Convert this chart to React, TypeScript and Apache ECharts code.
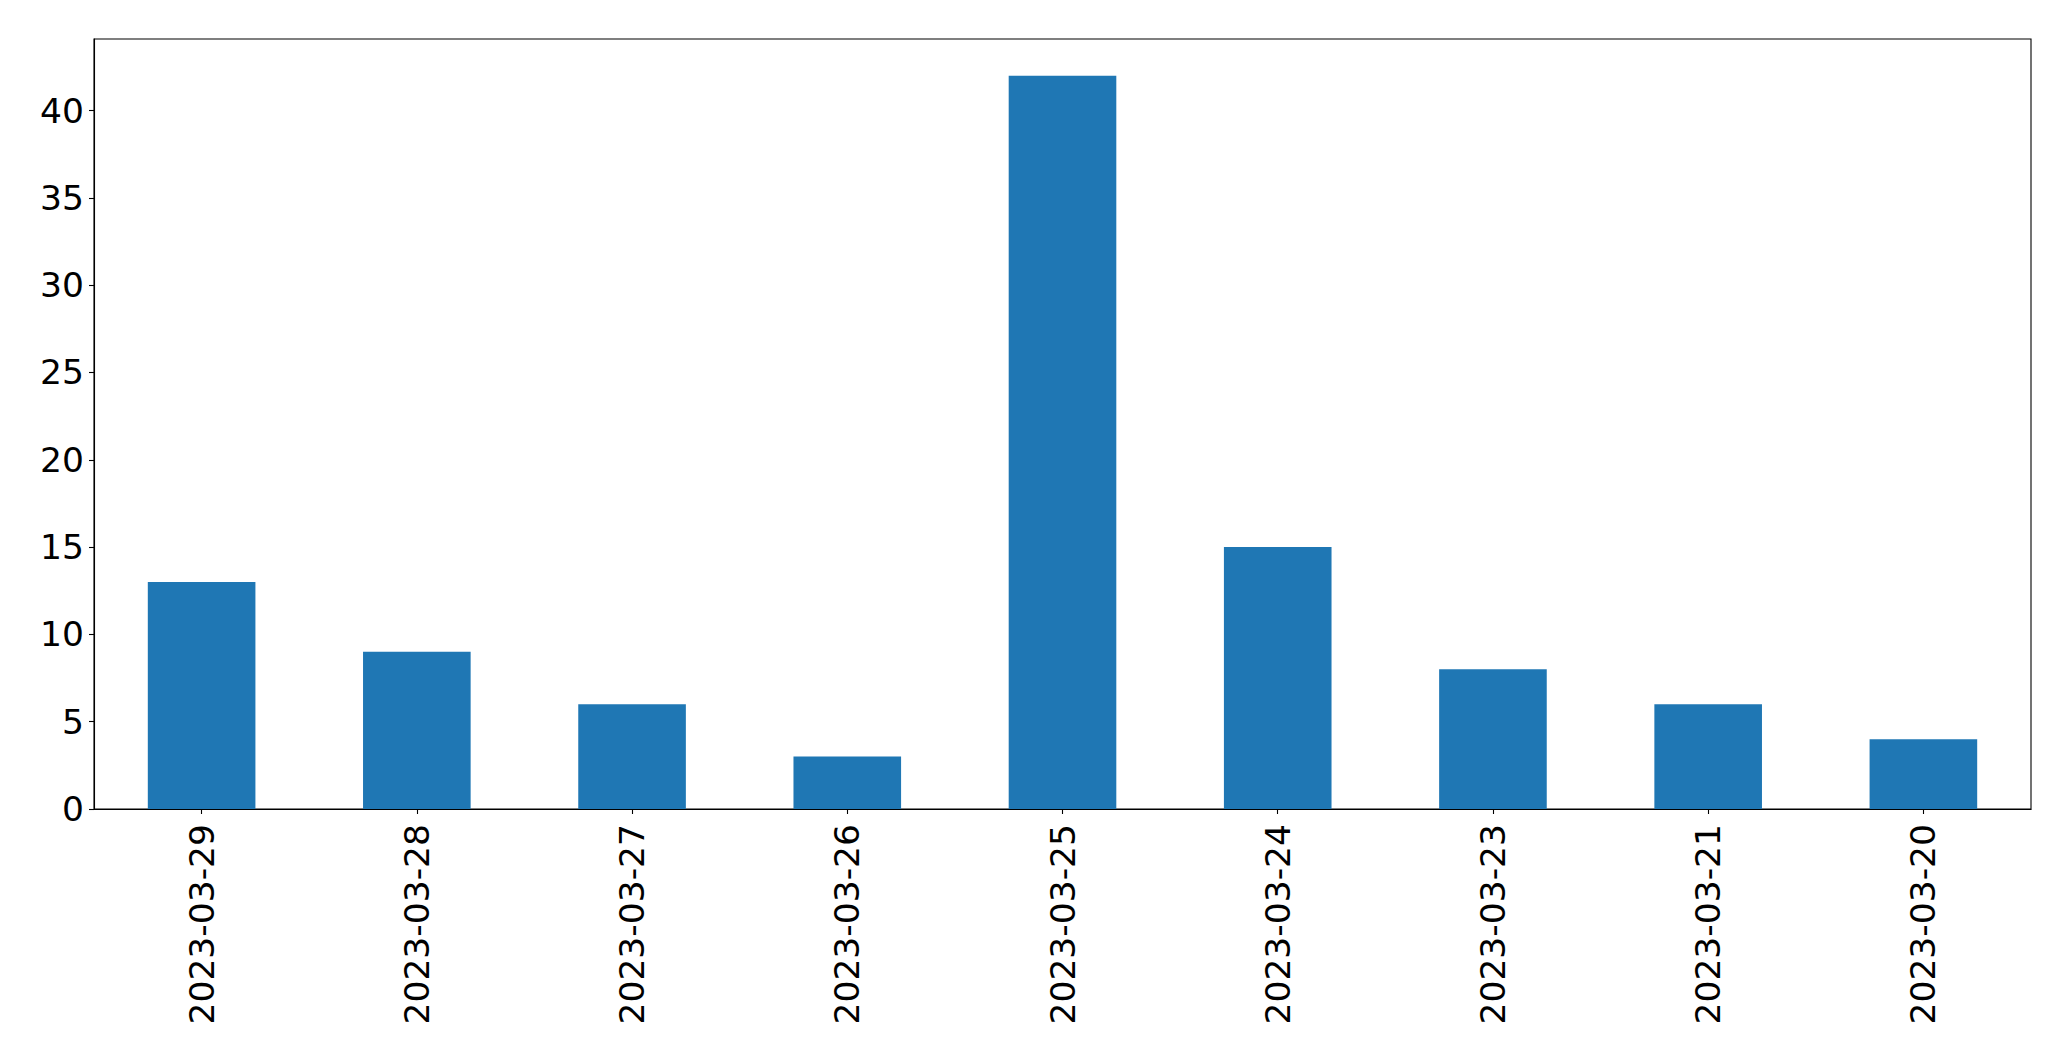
import React, { useEffect, useRef } from "react";
import * as echarts from "echarts";

const categories = [
  "2023-03-29",
  "2023-03-28",
  "2023-03-27",
  "2023-03-26",
  "2023-03-25",
  "2023-03-24",
  "2023-03-23",
  "2023-03-21",
  "2023-03-20",
];
const values = [13, 9, 6, 3, 42, 15, 8, 6, 4];
const yTicks = [0, 5, 10, 15, 20, 25, 30, 35, 40];

export default function App() {
  const ref = useRef<HTMLDivElement>(null);
  useEffect(() => {
    document.body.style.margin = "0";
    const chart = echarts.init(ref.current!, null, { renderer: "svg" });
    const font = "DejaVu Sans";
    chart.setOption({
      animation: false,
      backgroundColor: "#ffffff",
      grid: {
        left: 94,
        top: 39,
        right: 40,
        bottom: 252,
        containLabel: false,
        show: true,
        borderColor: "#000000",
        borderWidth: 1.1,
        backgroundColor: "transparent",
      },
      xAxis: {
        type: "category",
        data: categories,
        boundaryGap: true,
        axisLine: { show: true, lineStyle: { color: "#000", width: 1.1 } },
        axisTick: {
          show: true,
          alignWithLabel: true,
          length: 5,
          lineStyle: { color: "#000", width: 1.1 },
        },
        axisLabel: {
          rotate: 90,
          margin: 15,
          fontSize: 34.5,
          fontFamily: font,
          color: "#000",
          interval: 0,
        },
        splitLine: { show: false },
      },
      yAxis: {
        type: "value",
        min: 0,
        max: 44.1,
        interval: 5,
        axisLine: { show: true, lineStyle: { color: "#000", width: 1.1 } },
        axisTick: {
          show: true,
          length: 5,
          customValues: yTicks,
          lineStyle: { color: "#000", width: 1.1 },
        },
        axisLabel: {
          margin: 10,
          fontSize: 34.5,
          fontFamily: font,
          color: "#000",
          customValues: yTicks,
        },
        splitLine: { show: false },
      },
      series: [
        {
          type: "bar",
          data: values,
          barWidth: "50%",
          itemStyle: { color: "#1f77b4" },
        },
      ],
    });
    return () => chart.dispose();
  }, []);
  return (
    <div
      ref={ref}
      style={{ position: "absolute", left: 0, top: 0, width: 2071, height: 1061 }}
    />
  );
}
